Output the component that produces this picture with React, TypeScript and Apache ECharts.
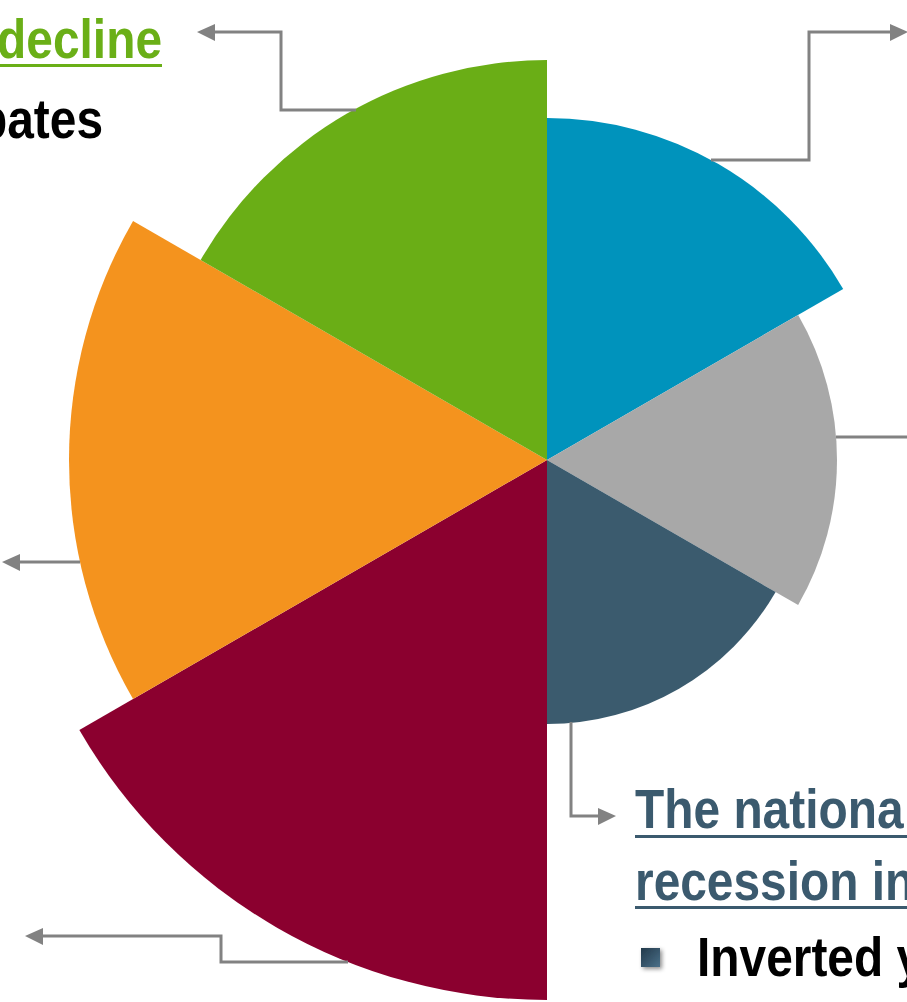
import React, { useEffect, useRef } from "react";
import * as echarts from "echarts";

// Rose segments, clockwise from 12 o'clock
const segmentNames = ["Segment 1", "Segment 2", "Segment 3", "Segment 4", "Segment 5", "Segment 6"];
const segmentValues = [342, 290, 264, 540, 478, 400];
const segmentColors = ["#0093BC", "#A8A8A8", "#3B5B6E", "#8B002F", "#F4931E", "#6AAE16"];

const FONT = "'Liberation Sans', Arial, sans-serif";
const LINE = "#828282";

export default function App() {
  const ref = useRef<HTMLDivElement>(null);
  useEffect(() => {
    if (!ref.current) return;
    const chart = echarts.init(ref.current, null, { renderer: "svg" });
    const lineStyle = { stroke: LINE, lineWidth: 3, fill: null as any };
    const arrow = (pts: number[][]) => ({ type: "polygon", shape: { points: pts }, style: { fill: LINE }, z: 10 });
    const poly = (pts: number[][]) => ({ type: "polyline", shape: { points: pts }, style: lineStyle, z: 10 });
    const mid = (baseline: number) => baseline - 19;
    const txt = (text: string, x: number, baseline: number, color: string, align: string) => ({
      type: "text",
      x,
      y: mid(baseline),
      scaleX: 0.855,
      z: 10,
      style: {
        text,
        fill: color,
        font: `bold 56px ${FONT}`,
        fontFamily: FONT,
        fontSize: 56,
        fontWeight: "bold",
        textAlign: align,
        textVerticalAlign: "middle",
        verticalAlign: "middle",
      },
    });
    chart.setOption({
      animation: false,
      backgroundColor: "#ffffff",
      series: [
        {
          type: "pie",
          roseType: "area",
          center: [547, 460],
          radius: [0, 540],
          startAngle: 90,
          clockwise: true,
          silent: true,
          label: { show: false },
          labelLine: { show: false },
          itemStyle: { borderWidth: 0 },
          data: segmentNames.map((n, i) => ({
            name: n,
            value: segmentValues[i],
            itemStyle: { color: segmentColors[i] },
          })),
        },
      ],
      graphic: [
        // green connector
        poly([[356, 110], [281, 110], [281, 32], [212, 32]]),
        arrow([[197, 32], [215, 24], [215, 41]]),
        // blue connector
        poly([[711, 160], [809, 160], [809, 32], [893, 32]]),
        arrow([[908, 32], [890, 24], [890, 41]]),
        // gray connector
        poly([[836, 437], [907, 437]]),
        // orange connector
        poly([[80, 562], [17, 562]]),
        arrow([[2, 562], [20, 554], [20, 571]]),
        // crimson connector
        poly([[348, 962], [221, 962], [221, 936], [40, 936]]),
        arrow([[25, 936], [43, 928], [43, 945]]),
        // slate connector
        poly([[571, 722], [571, 816], [600, 816]]),
        arrow([[616, 816], [598, 808], [598, 825]]),
        // texts
        txt("decline", 162, 58, "#6AAF17", "right"),
        { type: "rect", shape: { x: 0, y: 64, width: 162, height: 3 }, style: { fill: "#6AAF17" }, z: 10 },
        txt("pates", 103, 138, "#000000", "right"),
        txt("The nationa", 635, 828, "#3B5A6E", "left"),
        { type: "rect", shape: { x: 635, y: 835, width: 272, height: 3 }, style: { fill: "#3B5A6E" }, z: 10 },
        txt("recession in", 635, 900, "#3B5A6E", "left"),
        { type: "rect", shape: { x: 635, y: 906, width: 272, height: 3 }, style: { fill: "#3B5A6E" }, z: 10 },
        {
          type: "rect",
          shape: { x: 641, y: 948, width: 19, height: 19 },
          z: 10,
          style: {
            fill: new echarts.graphic.LinearGradient(0, 0, 1, 1, [
              { offset: 0, color: "#22394A" },
              { offset: 1, color: "#4A7089" },
            ]),
            shadowBlur: 4,
            shadowColor: "rgba(0,0,0,0.45)",
            shadowOffsetX: 2,
            shadowOffsetY: 2,
          },
        },
        txt("Inverted y", 697, 976, "#000000", "left"),
      ],
    });
    return () => chart.dispose();
  }, []);
  return (
    <div
      ref={ref}
      style={{ position: "fixed", left: 0, top: 0, width: 907, height: 1002, background: "#fff" }}
    />
  );
}
